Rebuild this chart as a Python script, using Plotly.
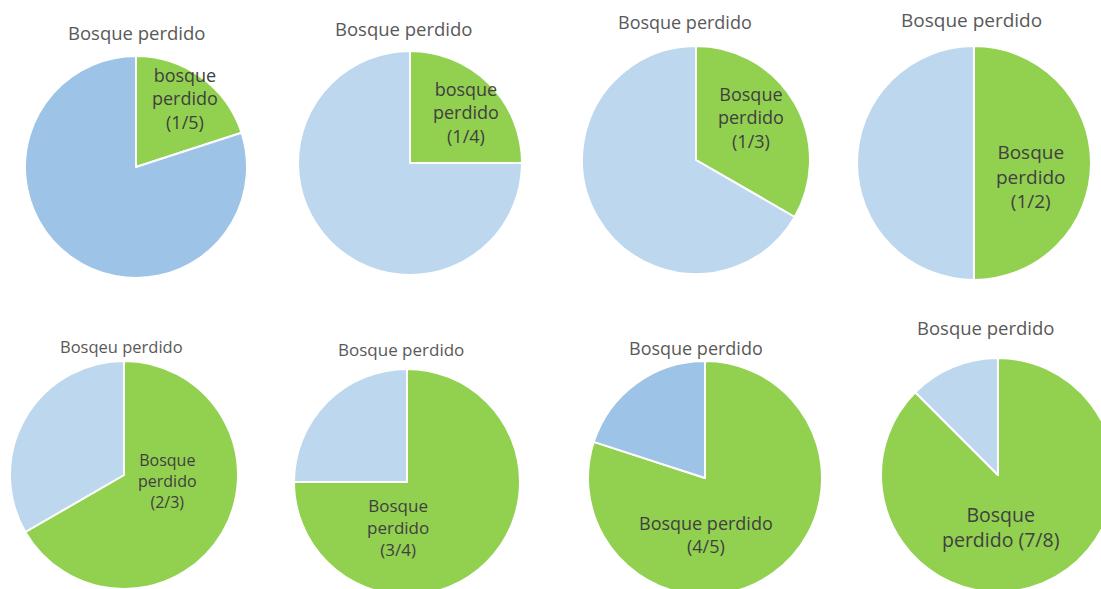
import plotly.graph_objects as go

# figure is a bit larger than the 1101x589 window so the pies cut at the
# right / bottom edge keep their full size; the overflow is hidden
W, H = 1130, 620

# data
lost = [1, 1, 1, 1, 2, 3, 4, 7]
total = [5, 4, 3, 2, 3, 4, 5, 8]
titles = ["Bosque perdido", "Bosque perdido", "Bosque perdido", "Bosque perdido",
          "Bosqeu perdido", "Bosque perdido", "Bosque perdido", "Bosque perdido"]
labels = ["bosque<br>perdido<br>(1/5)", "bosque<br>perdido<br>(1/4)",
          "Bosque<br>perdido<br>(1/3)", "Bosque<br>perdido<br>(1/2)",
          "Bosque<br>perdido<br>(2/3)", "Bosque<br>perdido<br>(3/4)",
          "Bosque perdido<br>(4/5)", "Bosque<br>perdido (7/8)"]
rest_colors = ["#9DC3E6", "#BDD7EE", "#BDD7EE", "#BDD7EE",
               "#BDD7EE", "#BDD7EE", "#9DC3E6", "#BDD7EE"]

# layout (window pixels): pie center, radius, title pos, label pos, font sizes
pies = [
  dict(cx=136, cy=167, r=111, tx=136, ty=32, ts=18.5, lx=185, ly=98, ls=18),
  dict(cx=410, cy=163, r=112, tx=403, ty=28, ts=18.5, lx=466, ly=112, ls=18),
  dict(cx=696, cy=160, r=114, tx=685, ty=22, ts=18, lx=751, ly=117, ls=18),
  dict(cx=974, cy=163, r=117, tx=971, ty=20, ts=19, lx=1031, ly=177, ls=19),
  dict(cx=124, cy=475, r=114, tx=121, ty=346, ts=16.5, lx=167, ly=481, ls=16),
  dict(cx=407, cy=482, r=113, tx=401, ty=349, ts=17, lx=398, ly=527, ls=17),
  dict(cx=705, cy=478, r=117, tx=696, ty=348, ts=18, lx=706, ly=534, ls=18),
  dict(cx=998, cy=475, r=117, tx=985, ty=327, ts=18.5, lx=1000, ly=527, ls=19.5),
]

FONT = "Open Sans"


def px_x(x):
  return x / W


def px_y(y):
  return 1 - y / H


fig = go.Figure()
annotations = []
for i, p in enumerate(pies):
  fig.add_trace(go.Pie(
    values=[lost[i], total[i] - lost[i]],
    labels=["perdido", "resto"],
    sort=False,
    direction="clockwise",
    rotation=0,
    textinfo="none",
    hoverinfo="skip",
    showlegend=False,
    marker={"colors": ["#92D050", rest_colors[i]], "line": {"color": "white", "width": 2}},
    domain={
      "x": [px_x(p["cx"] - p["r"]), px_x(p["cx"] + p["r"])],
      "y": [px_y(p["cy"] + p["r"]), px_y(p["cy"] - p["r"])],
    },
  ))
  annotations.append(dict(
    x=px_x(p["tx"]), y=px_y(p["ty"]), xref="paper", yref="paper",
    text=titles[i], showarrow=False, xanchor="center", yanchor="middle",
    font={"family": FONT, "size": p["ts"], "color": "#595959"},
  ))
  annotations.append(dict(
    x=px_x(p["lx"]), y=px_y(p["ly"]), xref="paper", yref="paper",
    text=labels[i], showarrow=False, xanchor="center", yanchor="middle",
    font={"family": FONT, "size": p["ls"], "color": "#404040"},
  ))

fig.update_layout({
  "width": W,
  "height": H,
  "margin": {"l": 0, "r": 0, "t": 0, "b": 0},
  "paper_bgcolor": "white",
  "annotations": annotations,
})

fig.write_html(
  "out.html",
  config={"displayModeBar": False},
  post_script="document.body.style.margin='0';document.body.style.overflow='hidden';",
)
